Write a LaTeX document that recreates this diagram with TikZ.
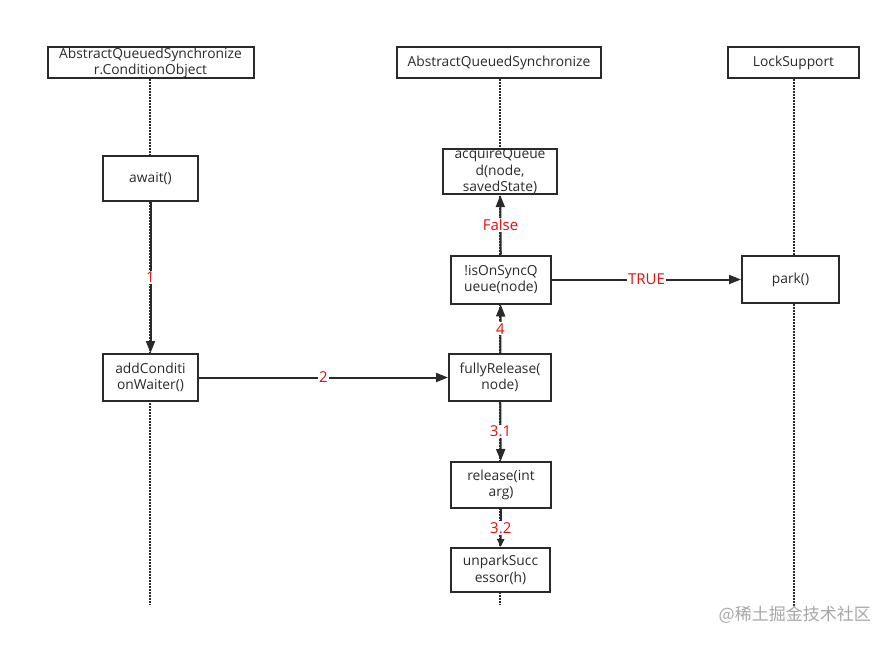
\documentclass[tikz,border=0pt]{standalone}
\usepackage{fontspec}
\setmainfont{Open Sans}
\newfontfamily\cjk{Noto Sans CJK SC}
\usetikzlibrary{arrows.meta,positioning}
\definecolor{ink}{HTML}{2A2A2A}
\definecolor{lblred}{HTML}{E01010}

\begin{document}
\begin{tikzpicture}
[x=1pt,y=-1pt,
every node/.style={font=\fontsize{13.8}{16.5}\selectfont,text=ink,inner sep=0pt},
box/.style={draw=ink,fill=white,line width=2pt,align=center},
lab/.style={fill=white,text=lblred,inner sep=1pt,font=\fontsize{15}{16}\selectfont},
myedge/.style={draw=ink,line width=2pt,-{Triangle[length=12pt,width=9pt]}},
subedge/.style={draw=ink,line width=2pt,-{Triangle[length=8pt,width=7pt]}},
lifeline/.style={draw=ink,line width=2.2pt,dash pattern=on 1.5pt off 1.5pt}]
\useasboundingbox (0,0) rectangle (891,645);
%%%%%%%%%%
%%%%% headings
\node (hA) [box,minimum width=206pt,minimum height=31pt] at (150.5,62.5) {AbstractQueuedSynchronize\\[-0.5pt]r.ConditionObject};
\node (hB) [box,minimum width=204pt,minimum height=31pt] at (499,62.5) {AbstractQueuedSynchronize};
\node (hC) [box,minimum width=131pt,minimum height=31pt] at (793.5,62.5) {LockSupport};
\coordinate (eA) at (150,605);
\coordinate (eB) at (500,605);
\coordinate (eC) at (794,607);
%% lifelines
\draw[lifeline] (hA.south -| eA) -- (eA);
\draw[lifeline] (hB.south -| eB) -- (eB);
\draw[lifeline] (hC.south -| eC) -- (eC);
%% calls
\node (await) [box,minimum width=95pt,minimum height=45pt] at (150.5,178.5) {await()};
\node (addcw) [box,minimum width=95pt,minimum height=47pt] at (150.5,377.5) {addConditi\\onWaiter()};
\node (acq) [box,minimum width=114pt,minimum height=45pt] at (500,171.5) {acquireQueue\\d(node,\\savedState)};
\node (sync) [box,minimum width=100pt,minimum height=48pt] at (501,279.5) {!isOnSyncQ\\ueue(node)};
\node (park) [box,minimum width=97pt,minimum height=47pt] at (790.5,279.5) {park()};
\node (fully) [box,minimum width=102pt,minimum height=47pt] at (500,377.5) {fullyRelease(\\node)};
\node (rel) [box,minimum width=100pt,minimum height=46pt] at (501,485) {release(int\\arg)};
\node (unpark) [box,minimum width=99pt,minimum height=44pt] at (500.5,570) {unparkSucc\\essor(h)};
%% edges
\draw[myedge] (await) -- node[lab] {1} (addcw);
\draw[myedge] (addcw) -- node[lab] {2} (fully);
\draw[myedge] (fully) -- node[lab] {4} (sync);
\draw[myedge] (sync) -- node[lab] {False} (acq);
\draw[myedge] (sync) -- node[lab] {TRUE} (park);
\draw[myedge] (fully) -- node[lab] {3.1} (rel);
\draw[subedge] (rel) -- node[lab] {3.2} (unpark);
%% watermark
\node (wm) [anchor=east,text=black!35,font=\cjk\fontsize{17}{17}\selectfont] at (871,615) {@稀土掘金技术社区};
\end{tikzpicture}
\end{document}
